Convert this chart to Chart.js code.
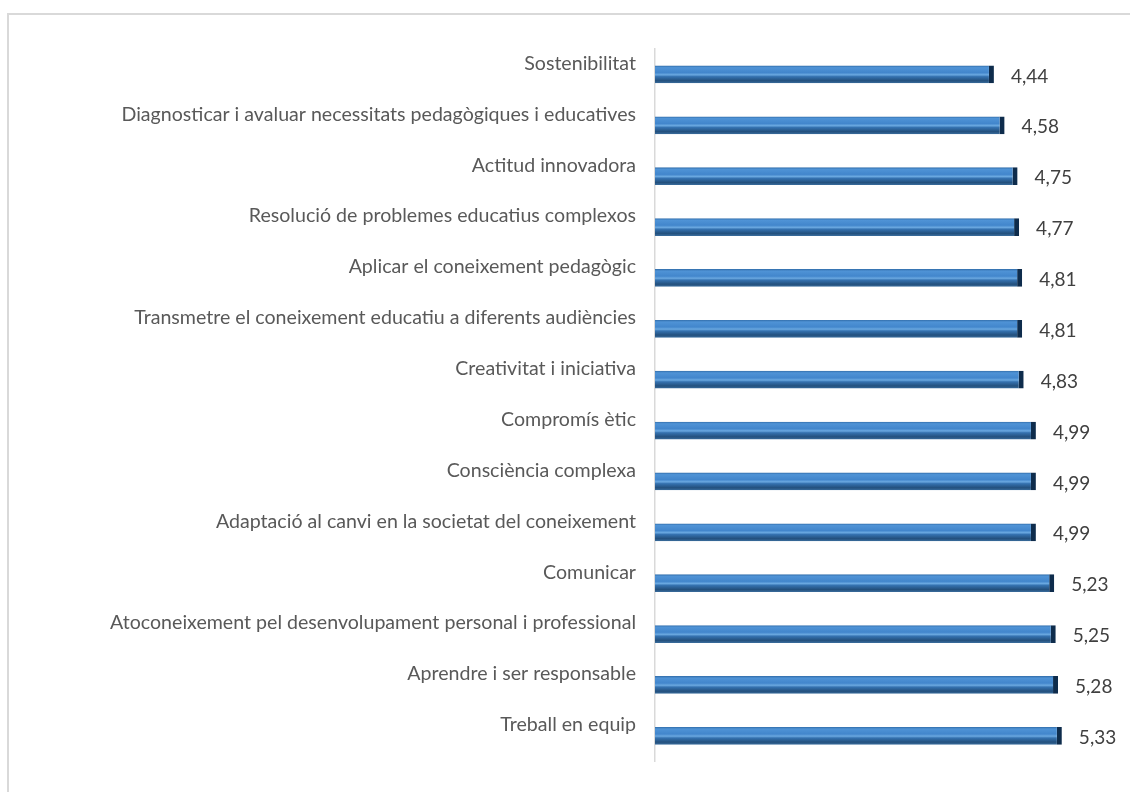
<!DOCTYPE html>
<html>
<head>
<meta charset="utf-8">
<script src="https://cdn.jsdelivr.net/npm/chart.js@4.4.1/dist/chart.umd.min.js"></script>
<style>
  html, body { margin: 0; padding: 0; background: #fff; }
  #wrap { position: relative; width: 1130px; height: 792px; overflow: hidden; }
  #frame { position: absolute; left: 7px; top: 13px; width: 1200px; height: 900px;
           border-left: 2px solid #d9d9d9; border-top: 2px solid #d9d9d9; }
  canvas { position: absolute; left: 0; top: 0; }
</style>
</head>
<body>
<div id="wrap">
  <div id="frame"></div>
  <canvas id="graphCanvas" width="1130" height="792"></canvas>
</div>
<script>
// categories, top to bottom
const competencies = [
  'Sostenibilitat',
  'Diagnosticar i avaluar necessitats pedagògiques i educatives',
  'Actitud innovadora',
  'Resolució de problemes educatius complexos',
  'Aplicar el coneixement pedagògic',
  'Transmetre el coneixement educatiu a diferents audiències',
  'Creativitat i iniciativa',
  'Compromís ètic',
  'Consciència complexa',
  'Adaptació al canvi en la societat del coneixement',
  'Comunicar',
  'Atoconeixement pel desenvolupament personal i professional',
  'Aprendre i ser responsable',
  'Treball en equip'
];
const scores = [4.44, 4.58, 4.75, 4.77, 4.81, 4.81, 4.83, 4.99, 4.99, 4.99, 5.23, 5.25, 5.28, 5.33];

const labelFont = { family: "Lato, sans-serif", size: 19.6 };

// bevelled blue fill, one gradient per bar
function barFill(ctx) {
  const chart = ctx.chart;
  if (!chart.chartArea || ctx.dataIndex === undefined) return '#3b78b8';
  const y = chart.scales.y.getPixelForValue(ctx.dataIndex);
  const g = chart.ctx.createLinearGradient(0, y - 9, 0, y + 9);
  g.addColorStop(0, '#2f6aa6');
  g.addColorStop(0.12, '#4f93d6');
  g.addColorStop(0.4, '#4286cc');
  g.addColorStop(0.52, '#6aa8e0');
  g.addColorStop(0.62, '#3572b0');
  g.addColorStop(0.85, '#23507d');
  g.addColorStop(1, '#3c6f9f');
  return g;
}

// value labels to the right of each bar
const valueLabels = {
  id: 'valueLabels',
  afterDatasetsDraw(chart) {
    const c = chart.ctx;
    const meta = chart.getDatasetMeta(0);
    c.save();
    c.font = "19px Lato, sans-serif";
    c.fillStyle = '#404040';
    c.textAlign = 'left';
    c.textBaseline = 'middle';
    meta.data.forEach((bar, i) => {
      c.fillText(scores[i].toFixed(2).replace('.', ','), bar.x + 17, bar.y + 2);
    });
    c.restore();
  }
};

new Chart(document.getElementById('graphCanvas'), {
  type: 'bar',
  data: {
    labels: competencies,
    datasets: [{
      data: scores,
      backgroundColor: barFill,
      borderColor: '#0e2c4c',
      borderWidth: { top: 0, right: 5, bottom: 0, left: 0 },
      borderSkipped: false,
      categoryPercentage: 1,
      barPercentage: 0.35
    }]
  },
  options: {
    indexAxis: 'y',
    responsive: false,
    animation: false,
    layout: { padding: { top: 49, bottom: 27, left: 0, right: 17 } },
    plugins: { legend: { display: false }, tooltip: { enabled: false } },
    scales: {
      x: { display: false, min: 0, max: 6 },
      y: {
        grid: { display: false, drawTicks: false },
        border: { display: true, color: '#d9d9d9', width: 1.5 },
        ticks: { color: '#595959', font: labelFont, padding: 19, labelOffset: -11 },
        afterFit(scale) { scale.width = 655; }
      }
    }
  },
  plugins: [valueLabels]
});
</script>
</body>
</html>
